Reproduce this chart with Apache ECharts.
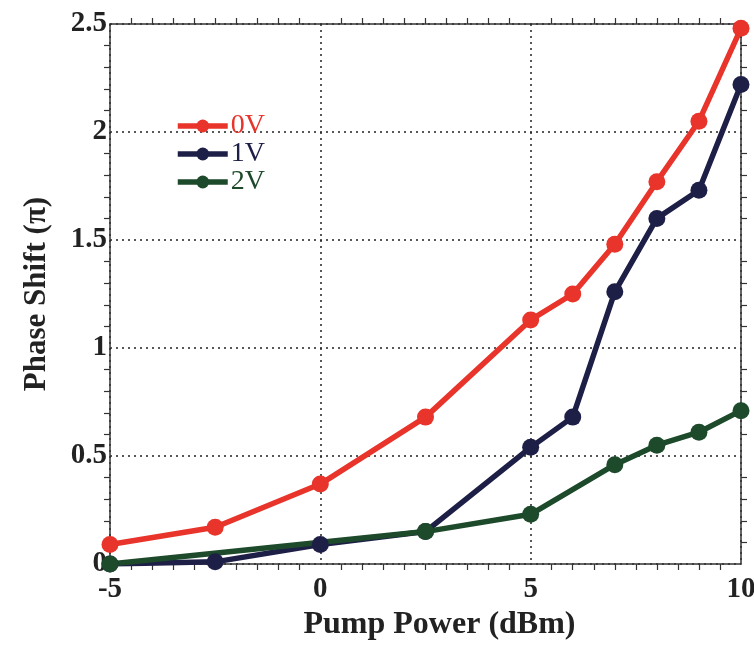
<!DOCTYPE html>
<html>
<head>
<meta charset="utf-8">
<script src="https://cdn.jsdelivr.net/npm/echarts@6/dist/echarts.min.js"></script>
<style>
  html, body { margin: 0; padding: 0; background: #fff; }
  #main { width: 754px; height: 645px; }
</style>
</head>
<body>
<div id="main"></div>
<script type="text/javascript">
    // pump power (dBm) per series
    var power0V = [-5, -2.5, 0, 2.5, 5, 6, 7, 8, 9, 10];
    var shift0V = [0.09, 0.17, 0.37, 0.68, 1.13, 1.25, 1.48, 1.77, 2.05, 2.48];

    var power1V = [-5, -2.5, 0, 2.5, 5, 6, 7, 8, 9, 10];
    var shift1V = [0.0, 0.01, 0.09, 0.15, 0.54, 0.68, 1.26, 1.60, 1.73, 2.22];

    var power2V = [-5, 2.5, 5, 7, 8, 9, 10];
    var shift2V = [0.0, 0.15, 0.23, 0.46, 0.55, 0.61, 0.71];

    var xTicks = [-5, 0, 5, 10];
    var yTicks = [0, 0.5, 1, 1.5, 2, 2.5];

    function pairs(xs, ys) {
        return xs.map(function (x, i) { return [x, ys[i]]; });
    }

    var font = 'Liberation Serif';
    var myChart = echarts.init(document.getElementById('main'));

    function lineSeries(name, color, xs, ys) {
        return {
            name: name,
            type: 'line',
            data: pairs(xs, ys),
            symbol: 'circle',
            symbolSize: 17,
            lineStyle: {color: color, width: 5.5},
            itemStyle: {color: color},
            animation: false
        };
    }

    var tickStyle = {color: '#333', width: 1.2};
    var boxLine = {show: true, onZero: false, lineStyle: {color: '#333', width: 1.5}};
    var tickText = {fontFamily: font, fontWeight: 'bold', fontSize: 29, color: '#222'};

    option = {
        backgroundColor: '#fff',
        grid: {left: 110, right: 13, top: 24, bottom: 81, outerBoundsMode: 'none'},
        legend: {
            orient: 'vertical',
            left: 170,
            top: 107,
            itemWidth: 50,
            itemHeight: 16,
            itemGap: 0,
            lineStyle: {width: 5.5},
            textStyle: {fontFamily: font, fontSize: 28, color: 'inherit', padding: [0, 0, 0, -2]},
            data: ['0V', '1V', '2V']
        },
        xAxis: [{
            type: 'value',
            min: xTicks[0],
            max: xTicks[xTicks.length - 1],
            interval: 5,
            name: 'Pump Power (dBm)',
            nameLocation: 'middle',
            nameGap: 42,
            nameTextStyle: {fontFamily: font, fontWeight: 'bold', fontSize: 32, color: '#222', padding: [0, 0, 0, 28]},
            axisLine: boxLine,
            axisTick: {show: false},
            minorTick: {show: true, splitNumber: 10, length: 6, inside: true, lineStyle: tickStyle},
            axisLabel: Object.assign({margin: 11}, tickText),
            splitLine: {show: true, lineStyle: {color: '#222', width: 1.5, type: [2, 4]}}
        }, {
            type: 'value',
            position: 'top',
            min: xTicks[0],
            max: xTicks[xTicks.length - 1],
            interval: 5,
            axisLine: boxLine,
            axisTick: {show: false},
            minorTick: {show: true, splitNumber: 10, length: 6, inside: true, lineStyle: tickStyle},
            axisLabel: {show: false},
            splitLine: {show: false}
        }],
        yAxis: [{
            type: 'value',
            min: yTicks[0],
            max: yTicks[yTicks.length - 1],
            interval: 0.5,
            name: 'Phase Shift (\u03c0)',
            nameLocation: 'middle',
            nameGap: 58,
            nameTextStyle: {fontFamily: font, fontWeight: 'bold', fontSize: 31, color: '#222'},
            axisLine: boxLine,
            axisTick: {show: false},
            minorTick: {show: true, splitNumber: 5, length: 6, inside: true, lineStyle: tickStyle},
            axisLabel: Object.assign({margin: 3}, tickText),
            splitLine: {show: true, lineStyle: {color: '#222', width: 1.5, type: [2, 4]}}
        }, {
            type: 'value',
            position: 'right',
            min: yTicks[0],
            max: yTicks[yTicks.length - 1],
            interval: 0.5,
            axisLine: boxLine,
            axisTick: {show: false},
            minorTick: {show: true, splitNumber: 5, length: 6, inside: true, lineStyle: tickStyle},
            axisLabel: {show: false},
            splitLine: {show: false}
        }],
        series: [
            lineSeries('0V', '#e8342a', power0V, shift0V),
            lineSeries('1V', '#1e1f47', power1V, shift1V),
            lineSeries('2V', '#1d4a2a', power2V, shift2V)
        ]
    };
    myChart.setOption(option);
</script>
</body>
</html>
